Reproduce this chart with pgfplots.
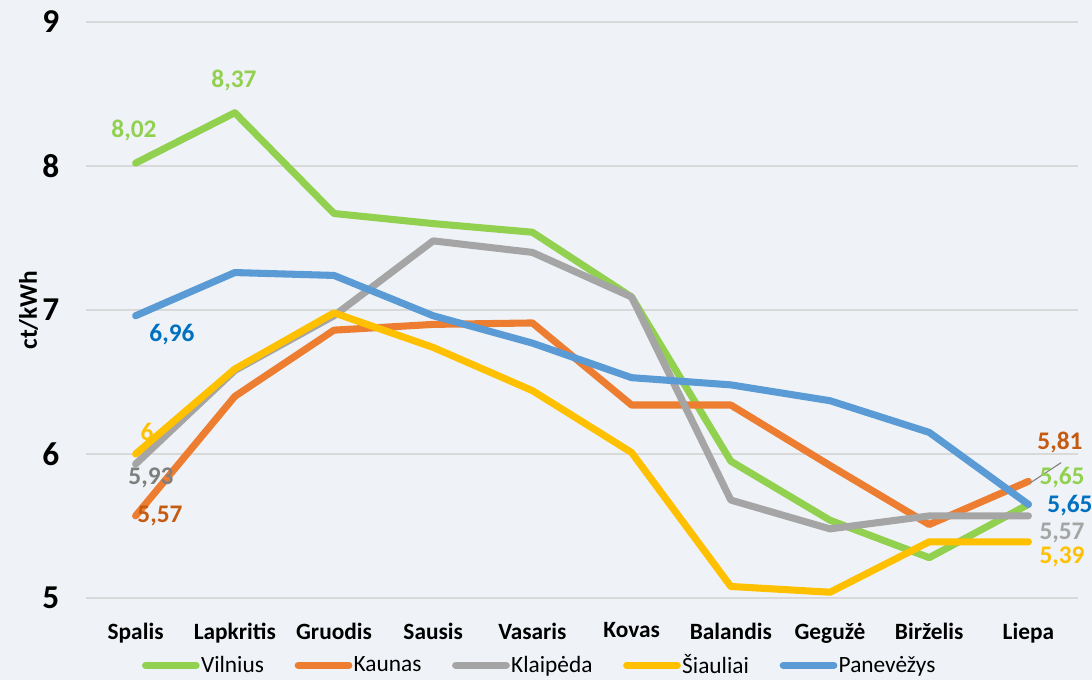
\documentclass[border=0pt]{standalone}
\usepackage{pgfplots}
\pgfplotsset{compat=1.18}
\usepackage{fontspec}
\setmainfont{Carlito}
\definecolor{bg}{HTML}{EFF3F7}
\definecolor{cV}{HTML}{92D050}
\definecolor{cK}{HTML}{ED7D31}
\definecolor{cKl}{HTML}{A5A5A5}
\definecolor{cS}{HTML}{FFC000}
\definecolor{cP}{HTML}{5B9BD5}
\definecolor{lK}{HTML}{C55A11}
\definecolor{lP}{HTML}{0070C0}
\definecolor{lKl}{HTML}{7F7F7F}
\definecolor{gridc}{HTML}{D9D9D9}
\begin{document}
\begin{tikzpicture}
\fill[bg] (0,0) rectangle (819pt,510pt);
\useasboundingbox (0,0) rectangle (819pt,510pt);
\begin{axis}[
  at={(64.5pt,61.5pt)}, anchor=south west,
  width=744pt, height=432pt, scale only axis,
  xmin=-0.5, xmax=9.5, ymin=5, ymax=9,
  xtick={0,...,9},
  xticklabels={Spalis,Lapkritis,Gruodis,Sausis,Vasaris,Kovas,Balandis,Gegužė,Birželis,Liepa},
  ytick={5,6,7,8,9},
  axis line style={draw=none},
  major tick length=0pt,
  xmajorgrids=false,
  ymajorgrids=true, grid style={draw=gridc, line width=1.5pt},
  xticklabel style={font=\bfseries\fontsize{17.5}{20}\selectfont, yshift=-15pt},
  yticklabel style={font=\bfseries\fontsize{25}{28}\selectfont, xshift=-16.5pt},
  /pgf/number format/assume math mode=true,
  ylabel={ct/kWh},
  ylabel style={font=\bfseries\fontsize{19}{21}\selectfont, at={(axis description cs:-0.058,0.5)}, anchor=center},
  clip=false,
  every axis plot/.append style={line width=5.3pt, line join=round, line cap=round},
  legend columns=5,
  legend style={at={(0.457,-0.117)}, anchor=center, draw=none, fill=none,
    font=\fontsize{17.5}{19}\selectfont, nodes={inner sep=1pt},
    /tikz/every even column/.append style={column sep=22pt}},
  legend image code/.code={\draw[#1, line cap=round] (2.6pt,0pt) -- (40.6pt,0pt);},
]
\addplot[cV] coordinates {(0,8.02)(1,8.37)(2,7.67)(3,7.60)(4,7.54)(5,7.09)(6,5.95)(7,5.54)(8,5.28)(9,5.65)};
\addlegendentry{Vilnius}
\addplot[cK] coordinates {(0,5.57)(1,6.40)(2,6.86)(3,6.90)(4,6.91)(5,6.34)(6,6.34)(7,5.92)(8,5.51)(9,5.81)};
\addlegendentry{Kaunas}
\addplot[cKl] coordinates {(0,5.93)(1,6.58)(2,6.96)(3,7.48)(4,7.40)(5,7.09)(6,5.68)(7,5.48)(8,5.57)(9,5.57)};
\addlegendentry{Klaipėda}
\addplot[cS] coordinates {(0,6.00)(1,6.59)(2,6.98)(3,6.74)(4,6.44)(5,6.01)(6,5.08)(7,5.04)(8,5.39)(9,5.39)};
\addlegendentry{Šiauliai}
\addplot[cP] coordinates {(0,6.96)(1,7.26)(2,7.24)(3,6.96)(4,6.77)(5,6.53)(6,6.48)(7,6.37)(8,6.15)(9,5.65)};
\addlegendentry{Panevėžys}
\begin{scope}[every node/.style={font=\bfseries\fontsize{19}{21}\selectfont, anchor=center, inner sep=0pt}]
\node[text=cV] at (axis cs:-0.016,8.25) {8,02};
\node[text=cV] at (axis cs:0.992,8.597) {8,37};
\node[text=lP] at (axis cs:0.367,6.826) {6,96};
\node[text=cS] at (axis cs:0.115,6.153) {6};
\node[text=lKl] at (axis cs:0.155,5.833) {5,93};
\node[text=lK] at (axis cs:0.246,5.569) {5,57};
\draw[lKl, line width=0.8pt] (axis cs:9.33,5.94) -- (axis cs:9.02,5.80);
\node[text=lK] at (axis cs:9.318,6.083) {5,81};
\node[text=cV] at (axis cs:9.339,5.833) {5,65};
\node[text=lP] at (axis cs:9.419,5.639) {5,65};
\node[text=cKl] at (axis cs:9.339,5.451) {5,57};
\node[text=cS] at (axis cs:9.339,5.285) {5,39};
\end{scope}
\end{axis}
\end{tikzpicture}
\end{document}
